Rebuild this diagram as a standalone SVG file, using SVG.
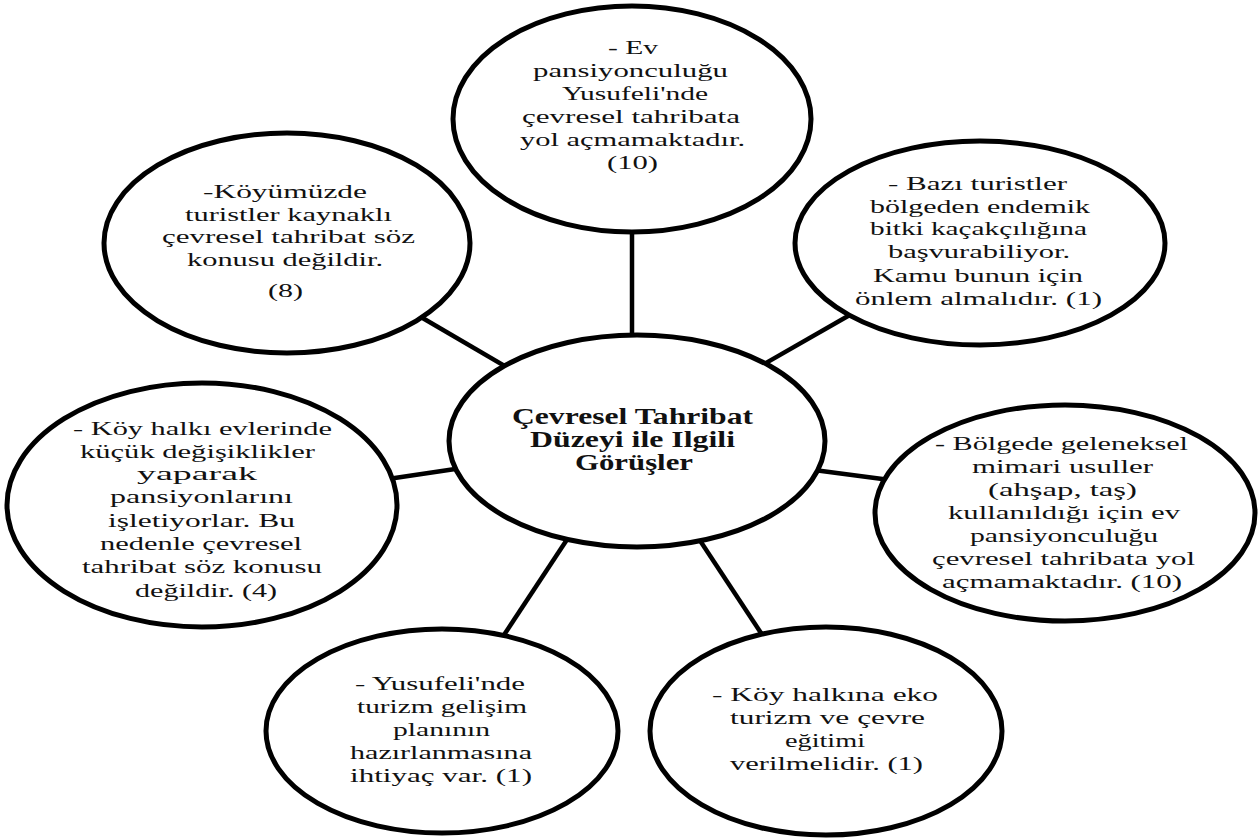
<svg xmlns="http://www.w3.org/2000/svg" width="1258" height="839" viewBox="0 0 1258 839">
<style>
.bg{fill:#ffffff}
.node{fill:#ffffff;stroke:#000;stroke-width:5}
.conn{stroke:#000;stroke-width:4.5;fill:none}
.t{font-family:"Liberation Serif","Times New Roman",serif;font-size:19px;fill:#111;text-anchor:middle}
.tb{font-family:"Liberation Serif","Times New Roman",serif;font-size:23px;font-weight:bold;fill:#111;text-anchor:middle}
</style>
<rect class="bg" x="0" y="0" width="1258" height="839"/>
<g id="connectors">
<line class="conn" x1="632" y1="225" x2="632" y2="345"/>
<line class="conn" x1="414" y1="313" x2="510" y2="369"/>
<line class="conn" x1="855" y1="312" x2="759" y2="367"/>
<line class="conn" x1="388" y1="479" x2="462" y2="468"/>
<line class="conn" x1="814" y1="470" x2="890" y2="480"/>
<line class="conn" x1="570" y1="535" x2="502" y2="638"/>
<line class="conn" x1="697" y1="536" x2="763" y2="636"/>
</g>
<g id="center">
<ellipse class="node" cx="637" cy="441" rx="188" ry="106"/>
<text class="tb" x="632.5" y="424" textLength="241" lengthAdjust="spacingAndGlyphs">Çevresel Tahribat</text>
<text class="tb" x="632.5" y="447" textLength="205" lengthAdjust="spacingAndGlyphs">Düzeyi ile Ilgili</text>
<text class="tb" x="634" y="470" textLength="118" lengthAdjust="spacingAndGlyphs">Görüşler</text>
</g>
<g id="node-top">
<ellipse class="node" cx="632" cy="119" rx="179" ry="113"/>
<text class="t" x="633" y="54" textLength="50" lengthAdjust="spacingAndGlyphs">- Ev</text>
<text class="t" x="630.5" y="77" textLength="195" lengthAdjust="spacingAndGlyphs">pansiyonculuğu</text>
<text class="t" x="635" y="100" textLength="146" lengthAdjust="spacingAndGlyphs">Yusufeli'nde</text>
<text class="t" x="631" y="123" textLength="218" lengthAdjust="spacingAndGlyphs">çevresel tahribata</text>
<text class="t" x="632.5" y="146" textLength="225" lengthAdjust="spacingAndGlyphs">yol açmamaktadır.</text>
<text class="t" x="632.5" y="169" textLength="51" lengthAdjust="spacingAndGlyphs">(10)</text>
</g>
<g id="node-top-left">
<ellipse class="node" cx="287" cy="243" rx="183" ry="110"/>
<text class="t" x="285" y="198" textLength="164" lengthAdjust="spacingAndGlyphs">-Köyümüzde</text>
<text class="t" x="288.5" y="221" textLength="207" lengthAdjust="spacingAndGlyphs">turistler kaynaklı</text>
<text class="t" x="288.5" y="243" textLength="253" lengthAdjust="spacingAndGlyphs">çevresel tahribat söz</text>
<text class="t" x="285" y="266" textLength="196" lengthAdjust="spacingAndGlyphs">konusu değildir.</text>
<text class="t" x="285.5" y="297" textLength="35" lengthAdjust="spacingAndGlyphs">(8)</text>
</g>
<g id="node-top-right">
<ellipse class="node" cx="980" cy="243" rx="185" ry="102"/>
<text class="t" x="977.5" y="190" textLength="179" lengthAdjust="spacingAndGlyphs">- Bazı turistler</text>
<text class="t" x="980" y="213" textLength="220" lengthAdjust="spacingAndGlyphs">bölgeden endemik</text>
<text class="t" x="978.5" y="235" textLength="217" lengthAdjust="spacingAndGlyphs">bitki kaçakçılığına</text>
<text class="t" x="979" y="258" textLength="182" lengthAdjust="spacingAndGlyphs">başvurabiliyor.</text>
<text class="t" x="978" y="282" textLength="210" lengthAdjust="spacingAndGlyphs">Kamu bunun için</text>
<text class="t" x="978.5" y="305" textLength="247" lengthAdjust="spacingAndGlyphs">önlem almalıdır. (1)</text>
</g>
<g id="node-left">
<ellipse class="node" cx="202" cy="505" rx="195" ry="122"/>
<text class="t" x="202.5" y="435" textLength="259" lengthAdjust="spacingAndGlyphs">- Köy halkı evlerinde</text>
<text class="t" x="197.5" y="458" textLength="235" lengthAdjust="spacingAndGlyphs">küçük değişiklikler</text>
<text class="t" x="197" y="480" textLength="120" lengthAdjust="spacingAndGlyphs">yaparak</text>
<text class="t" x="201.5" y="503" textLength="183" lengthAdjust="spacingAndGlyphs">pansiyonlarını</text>
<text class="t" x="201.5" y="527" textLength="187" lengthAdjust="spacingAndGlyphs">işletiyorlar. Bu</text>
<text class="t" x="201" y="550" textLength="202" lengthAdjust="spacingAndGlyphs">nedenle çevresel</text>
<text class="t" x="202" y="573" textLength="240" lengthAdjust="spacingAndGlyphs">tahribat söz konusu</text>
<text class="t" x="206" y="597" textLength="142" lengthAdjust="spacingAndGlyphs">değildir. (4)</text>
</g>
<g id="node-right">
<ellipse class="node" cx="1065" cy="513" rx="190" ry="108"/>
<text class="t" x="1061.5" y="450" textLength="253" lengthAdjust="spacingAndGlyphs">- Bölgede geleneksel</text>
<text class="t" x="1062.5" y="473" textLength="181" lengthAdjust="spacingAndGlyphs">mimari usuller</text>
<text class="t" x="1062.5" y="496" textLength="149" lengthAdjust="spacingAndGlyphs">(ahşap, taş)</text>
<text class="t" x="1064" y="519" textLength="232" lengthAdjust="spacingAndGlyphs">kullanıldığı için ev</text>
<text class="t" x="1064" y="542" textLength="188" lengthAdjust="spacingAndGlyphs">pansiyonculuğu</text>
<text class="t" x="1063.5" y="565" textLength="263" lengthAdjust="spacingAndGlyphs">çevresel tahribata yol</text>
<text class="t" x="1062" y="588" textLength="240" lengthAdjust="spacingAndGlyphs">açmamaktadır. (10)</text>
</g>
<g id="node-bottom-left">
<ellipse class="node" cx="442" cy="731" rx="176" ry="102"/>
<text class="t" x="440" y="690" textLength="170" lengthAdjust="spacingAndGlyphs">- Yusufeli'nde</text>
<text class="t" x="442" y="713" textLength="170" lengthAdjust="spacingAndGlyphs">turizm gelişim</text>
<text class="t" x="441.5" y="736" textLength="97" lengthAdjust="spacingAndGlyphs">planının</text>
<text class="t" x="441" y="759" textLength="182" lengthAdjust="spacingAndGlyphs">hazırlanmasına</text>
<text class="t" x="441" y="782" textLength="182" lengthAdjust="spacingAndGlyphs">ihtiyaç var. (1)</text>
</g>
<g id="node-bottom-right">
<ellipse class="node" cx="826" cy="731" rx="176" ry="104"/>
<text class="t" x="825" y="701" textLength="226" lengthAdjust="spacingAndGlyphs">- Köy halkına eko</text>
<text class="t" x="827.5" y="724" textLength="195" lengthAdjust="spacingAndGlyphs">turizm ve çevre</text>
<text class="t" x="825" y="747" textLength="80" lengthAdjust="spacingAndGlyphs">eğitimi</text>
<text class="t" x="826.5" y="770" textLength="193" lengthAdjust="spacingAndGlyphs">verilmelidir. (1)</text>
</g>
</svg>
